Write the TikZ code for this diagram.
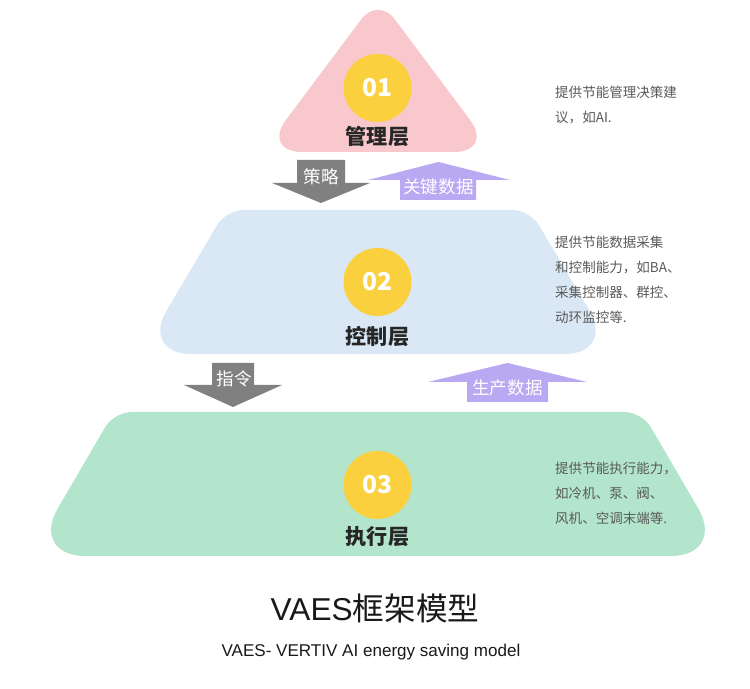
\documentclass[tikz,border=0pt]{standalone}
\usepackage{fontspec}
\setmainfont{Noto Sans CJK SC}
\newfontfamily\latinfont{Liberation Sans}
\definecolor{mgmtpink}{HTML}{F8C8CC}
\definecolor{ctrlblue}{HTML}{DAE8F5}
\definecolor{execgreen}{HTML}{B2E5CB}
\definecolor{discgold}{HTML}{FBD03E}
\definecolor{downgray}{HTML}{808080}
\definecolor{uppurple}{HTML}{B9A8F2}
\begin{document}
\begin{tikzpicture}[
  numdisc/.style={circle, fill=discgold, minimum size=1.36cm, inner sep=0pt,
    text=white, font=\fontsize{14}{16}\selectfont\bfseries},
  layername/.style={text=black!85, font=\fontsize{12}{14}\selectfont\bfseries},
  flowtext/.style={text=white, font=\fontsize{10}{12}\selectfont},
  notetext/.style={anchor=west, align=left, text=black!65,
    font=\fontsize{7.7}{14.2}\selectfont},
]
  \useasboundingbox (0,0) rectangle (15,13.78);

  % Management layer
  \fill[mgmtpink] (7.56,10.74) [rounded corners=0.8cm] -- (5.24,10.74)
    [rounded corners=0.55cm] -- (7.56,13.84) [rounded corners=0.8cm] -- (9.88,10.74) -- cycle;

  % Control layer
  \fill[ctrlblue] (7.56,6.70) [rounded corners=1.0cm] -- (2.82,6.70)
    [rounded corners=0.35cm] -- (4.52,9.58) -- (10.60,9.58) [rounded corners=1.0cm] -- (12.30,6.70) -- cycle;

  % Execution layer
  \fill[execgreen] (7.56,2.66) [rounded corners=1.1cm] -- (0.60,2.66)
    [rounded corners=0.35cm] -- (2.28,5.54) -- (12.84,5.54) [rounded corners=1.1cm] -- (14.52,2.66) -- cycle;

  % Number discs and layer names
  \node[numdisc] (disc1) at (7.55,12.02) {01};
  \node[numdisc] (disc2) at (7.55,8.14) {02};
  \node[numdisc] (disc3) at (7.55,4.08) {03};
  \node[layername] (mgmt) at (7.55,11.04) {管理层};
  \node[layername] (ctrl) at (7.55,7.04) {控制层};
  \node[layername] (exec) at (7.55,3.04) {执行层};

  % Down arrows
  \fill[downgray] (5.94,10.58) -- (6.90,10.58) -- (6.90,10.12) -- (7.40,10.12)
    -- (6.42,9.72) -- (5.44,10.12) -- (5.94,10.12) -- cycle;
  \node[flowtext] (strategy) at (6.42,10.24) {策略};
  \fill[downgray] (4.24,6.52) -- (5.08,6.52) -- (5.08,6.08) -- (5.64,6.08)
    -- (4.66,5.64) -- (3.68,6.08) -- (4.24,6.08) -- cycle;
  \node[flowtext] (command) at (4.68,6.20) {指令};

  % Up arrows
  \fill[uppurple] (8.00,9.78) -- (9.52,9.78) -- (9.52,10.18) -- (10.20,10.18)
    -- (8.77,10.54) -- (7.36,10.18) -- (8.00,10.18) -- cycle;
  \node[flowtext] (keydata) at (8.77,10.04) {关键数据};
  \fill[uppurple] (9.34,5.74) -- (10.96,5.74) -- (10.96,6.14) -- (11.74,6.14)
    -- (10.15,6.52) -- (8.56,6.14) -- (9.34,6.14) -- cycle;
  \node[flowtext] (proddata) at (10.15,6.02) {生产数据};

  % Notes
  \node[notetext] (note1) at (10.98,11.68) {提供节能管理决策建\\议，如AI.};
  \node[notetext] (note2) at (10.98,8.18) {提供节能数据采集\\和控制能力，如BA、\\采集控制器、群控、\\动环监控等.};
  \node[notetext] (note3) at (10.98,3.92) {提供节能执行能力，\\如冷机、泵、阀、\\风机、空调末端等.};

  % Titles
  \node[text=black!90, font=\fontsize{18}{20}\selectfont] (title) at (7.5,1.62)
    {{\latinfont VAES}框架模型};
  \node[text=black!90, font=\latinfont\fontsize{9.7}{11}\selectfont] (subtitle) at (7.42,0.74)
    {VAES- VERTIV AI energy saving model};
\end{tikzpicture}
\end{document}
